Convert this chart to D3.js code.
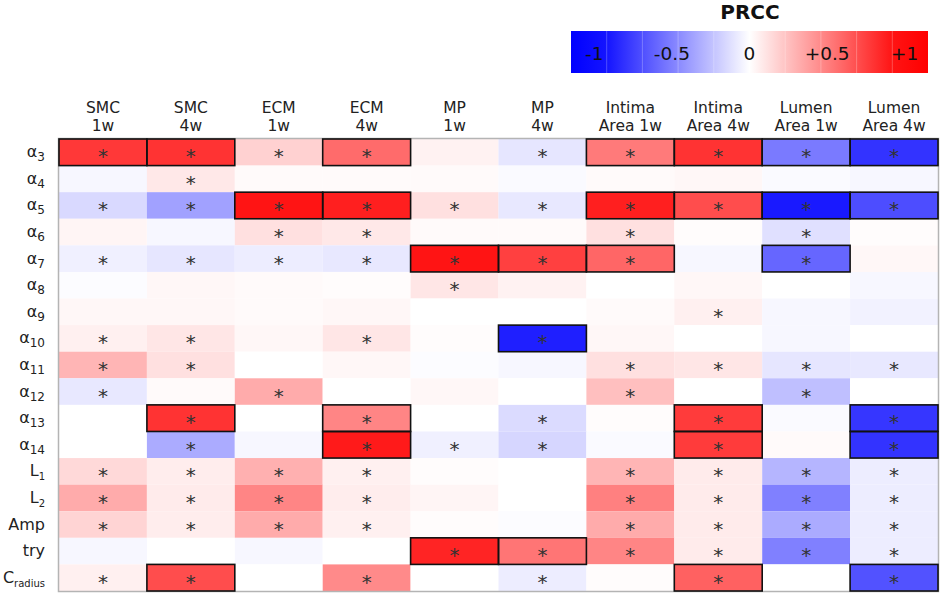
<!DOCTYPE html>
<html>
<head>
<meta charset="utf-8">
<script src="https://cdn.jsdelivr.net/npm/d3@7"></script>
<style>
  body { margin: 0; background: #fff; }
  text { font-family: "DejaVu Sans", Verdana, sans-serif; fill: #222; }
</style>
</head>
<body>
<script>
// columns (two-line headers)
const colTop = ["SMC", "SMC", "ECM", "ECM", "MP", "MP", "Intima", "Intima", "Lumen", "Lumen"]
const colBottom = ["1w", "4w", "1w", "4w", "1w", "4w", "Area 1w", "Area 4w", "Area 1w", "Area 4w"]

// row labels: base + subscript
const rowBase = ["α", "α", "α", "α", "α", "α", "α", "α", "α", "α", "α", "α", "L", "L", "Amp", "try", "C"]
const rowSub = ["3", "4", "5", "6", "7", "8", "9", "10", "11", "12", "13", "14", "1", "2", "", "", "radius"]

// PRCC values, one array per row (SMC1w ... Lumen Area 4w)
const prcc = [
  [0.78, 0.80, 0.18, 0.58, 0.05, -0.10, 0.52, 0.80, -0.52, -0.80],
  [-0.03, 0.09, 0.02, 0.02, 0.02, -0.02, 0.02, 0.03, -0.02, -0.03],
  [-0.15, -0.37, 0.92, 0.88, 0.12, -0.09, 0.88, 0.70, -0.90, -0.70],
  [0.04, -0.03, 0.12, 0.09, 0.02, 0.02, 0.12, 0.01, -0.12, 0.01],
  [-0.06, -0.10, -0.07, -0.09, 0.92, 0.75, 0.60, -0.03, -0.60, 0.03],
  [-0.01, 0.03, 0.02, 0.01, 0.10, 0.05, 0.00, 0.03, 0.00, -0.03],
  [0.03, 0.03, 0.02, 0.03, 0.00, 0.00, 0.02, 0.06, -0.03, -0.05],
  [0.06, 0.10, 0.03, 0.10, 0.01, -0.88, 0.03, 0.00, -0.03, 0.00],
  [0.29, 0.12, 0.00, 0.03, -0.01, -0.03, 0.12, 0.10, -0.10, -0.09],
  [-0.09, 0.02, 0.33, 0.00, 0.03, 0.00, 0.25, 0.00, -0.25, 0.00],
  [0.00, 0.80, 0.00, 0.48, 0.00, -0.14, 0.01, 0.77, -0.02, -0.79],
  [0.00, -0.33, -0.03, 0.90, -0.06, -0.16, -0.02, 0.77, 0.02, -0.80],
  [0.15, 0.07, 0.31, 0.06, 0.01, 0.00, 0.29, 0.08, -0.29, -0.07],
  [0.33, 0.08, 0.48, 0.07, 0.04, 0.00, 0.50, 0.08, -0.50, -0.07],
  [0.17, 0.07, 0.33, 0.06, 0.01, -0.01, 0.33, 0.08, -0.33, -0.07],
  [-0.03, 0.00, -0.03, 0.00, 0.86, 0.54, 0.48, 0.08, -0.50, -0.07],
  [0.06, 0.70, 0.00, 0.46, 0.00, -0.07, 0.01, 0.62, 0.00, -0.68]
]

// significance (asterisk)
const signif = [
  [1, 1, 1, 1, 0, 1, 1, 1, 1, 1],
  [0, 1, 0, 0, 0, 0, 0, 0, 0, 0],
  [1, 1, 1, 1, 1, 1, 1, 1, 1, 1],
  [0, 0, 1, 1, 0, 0, 1, 0, 1, 0],
  [1, 1, 1, 1, 1, 1, 1, 0, 1, 0],
  [0, 0, 0, 0, 1, 0, 0, 0, 0, 0],
  [0, 0, 0, 0, 0, 0, 0, 1, 0, 0],
  [1, 1, 0, 1, 0, 1, 0, 0, 0, 0],
  [1, 1, 0, 0, 0, 0, 1, 1, 1, 1],
  [1, 0, 1, 0, 0, 0, 1, 0, 1, 0],
  [0, 1, 0, 1, 0, 1, 0, 1, 0, 1],
  [0, 1, 0, 1, 1, 1, 0, 1, 0, 1],
  [1, 1, 1, 1, 0, 0, 1, 1, 1, 1],
  [1, 1, 1, 1, 0, 0, 1, 1, 1, 1],
  [1, 1, 1, 1, 0, 0, 1, 1, 1, 1],
  [0, 0, 0, 0, 1, 1, 1, 1, 1, 1],
  [1, 1, 0, 1, 0, 1, 0, 1, 0, 1]
]

// outlined (strong) cells
const boxed = [
  [1, 1, 0, 1, 0, 0, 1, 1, 1, 1],
  [0, 0, 0, 0, 0, 0, 0, 0, 0, 0],
  [0, 0, 1, 1, 0, 0, 1, 1, 1, 1],
  [0, 0, 0, 0, 0, 0, 0, 0, 0, 0],
  [0, 0, 0, 0, 1, 1, 1, 0, 1, 0],
  [0, 0, 0, 0, 0, 0, 0, 0, 0, 0],
  [0, 0, 0, 0, 0, 0, 0, 0, 0, 0],
  [0, 0, 0, 0, 0, 1, 0, 0, 0, 0],
  [0, 0, 0, 0, 0, 0, 0, 0, 0, 0],
  [0, 0, 0, 0, 0, 0, 0, 0, 0, 0],
  [0, 1, 0, 1, 0, 0, 0, 1, 0, 1],
  [0, 0, 0, 1, 0, 0, 0, 1, 0, 1],
  [0, 0, 0, 0, 0, 0, 0, 0, 0, 0],
  [0, 0, 0, 0, 0, 0, 0, 0, 0, 0],
  [0, 0, 0, 0, 0, 0, 0, 0, 0, 0],
  [0, 0, 0, 0, 1, 1, 0, 0, 0, 0],
  [0, 1, 0, 0, 0, 0, 0, 1, 0, 1]
]

const legendTicks = [-1, -0.5, 0, 0.5, 1]
const legendLabels = ["-1", "-0.5", "0", "+0.5", "+1"]

const width = 941, height = 593
const margin = {top: 139, right: 3, bottom: 2, left: 59}

const cols = d3.range(colTop.length)
const rows = d3.range(rowBase.length)

const x = d3.scaleBand().domain(cols).range([margin.left, width - margin.right])
const y = d3.scaleBand().domain(rows).range([margin.top, height - margin.bottom])
const color = d3.scaleLinear().domain([-1, 0, 1]).range(["#0000ff", "#ffffff", "#ff0000"]).clamp(true)

const svg = d3.select("body").append("svg")
  .attr("width", width)
  .attr("height", height)

const cells = []
rows.forEach(r => cols.forEach(c => cells.push({r, c, v: prcc[r][c], s: signif[r][c], b: boxed[r][c]})))

// heat cells
svg.append("g").selectAll("rect")
  .data(cells)
  .enter().append("rect")
    .attr("x", d => x(d.c))
    .attr("y", d => y(d.r))
    .attr("width", x.bandwidth())
    .attr("height", y.bandwidth())
    .attr("fill", d => color(d.v))

// grey frame
svg.append("rect")
  .attr("x", margin.left - 0.5)
  .attr("y", margin.top - 0.5)
  .attr("width", width - margin.left - margin.right + 1)
  .attr("height", height - margin.top - margin.bottom + 1)
  .attr("fill", "none")
  .attr("stroke", "#b4b4b4")
  .attr("stroke-width", 1.5)

// outlined cells
svg.append("g").selectAll("rect")
  .data(cells.filter(d => d.b))
  .enter().append("rect")
    .attr("x", d => x(d.c))
    .attr("y", d => y(d.r))
    .attr("width", x.bandwidth())
    .attr("height", y.bandwidth())
    .attr("fill", "none")
    .attr("stroke", "#111")
    .attr("stroke-width", 1.6)

// asterisks
svg.append("g").selectAll("text")
  .data(cells.filter(d => d.s))
  .enter().append("text")
    .attr("x", d => x(d.c) + x.bandwidth() / 2)
    .attr("y", d => y(d.r) + y.bandwidth() / 2 + 11)
    .attr("text-anchor", "middle")
    .style("font-size", "20px")
    .style("fill", "#333")
    .text("*")

// column headers, one text per line
const headG = svg.append("g").attr("text-anchor", "middle").style("font-size", "15.5px")
headG.selectAll("text.top")
  .data(cols)
  .enter().append("text")
    .attr("class", "top")
    .attr("x", c => x(c) + x.bandwidth() / 2)
    .attr("y", 112.5)
    .text(c => colTop[c])
headG.selectAll("text.bottom")
  .data(cols)
  .enter().append("text")
    .attr("class", "bottom")
    .attr("x", c => x(c) + x.bandwidth() / 2)
    .attr("y", 131)
    .text(c => colBottom[c])

// row labels
const lab = svg.append("g").selectAll("text")
  .data(rows)
  .enter().append("text")
    .attr("x", 45)
    .attr("y", r => y(r) + y.bandwidth() / 2 + 5)
    .attr("text-anchor", "end")
    .style("font-size", "16px")
lab.append("tspan").text(r => rowBase[r])
lab.append("tspan")
  .attr("dy", 4)
  .style("font-size", r => rowBase[r] === "α" ? "12px" : "10px")
  .text(r => rowSub[r])

// legend
const lx = d3.scaleLinear().domain([-1.15, 1.15]).range([571, 928])
const defs = svg.append("defs")
const grad = defs.append("linearGradient").attr("id", "prccGrad")
d3.range(0, 1.0001, 0.1).forEach(t => {
  grad.append("stop")
    .attr("offset", `${t * 100}%`)
    .attr("stop-color", color(lx.invert(571 + t * 357)))
})
svg.append("rect")
  .attr("x", lx.range()[0])
  .attr("y", 31)
  .attr("width", lx.range()[1] - lx.range()[0])
  .attr("height", 42)
  .attr("fill", "url(#prccGrad)")

// faint segment lines in the legend bar
const seg = (lx.range()[1] - lx.range()[0]) / 10
svg.append("g").selectAll("line")
  .data(d3.range(1, 10))
  .enter().append("line")
    .attr("x1", i => lx.range()[0] + i * seg)
    .attr("x2", i => lx.range()[0] + i * seg)
    .attr("y1", 31)
    .attr("y2", 73)
    .attr("stroke", "#fff")
    .attr("stroke-opacity", 0.25)

svg.append("g").selectAll("text")
  .data(legendTicks)
  .enter().append("text")
    .attr("x", d => lx(d))
    .attr("y", 60)
    .attr("text-anchor", "middle")
    .style("font-size", "18.5px")
    .style("fill", "#111")
    .text((d, i) => legendLabels[i])

svg.append("text")
  .attr("x", 750)
  .attr("y", 19)
  .attr("text-anchor", "middle")
  .style("font-size", "20px")
  .style("font-weight", "bold")
  .style("fill", "#111")
  .text("PRCC")
</script>
</body>
</html>
